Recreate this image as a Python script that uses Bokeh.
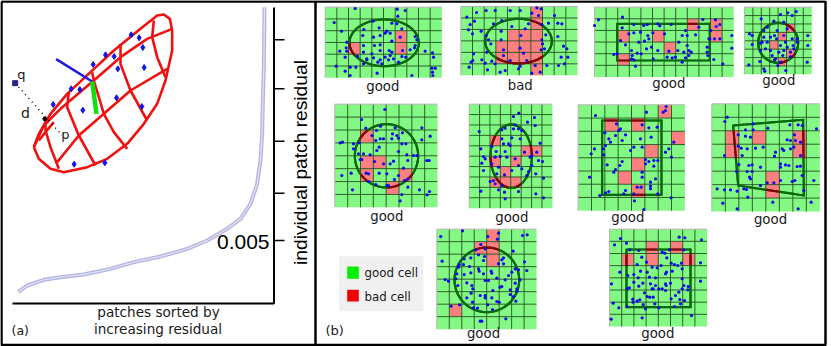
import numpy as np
from bokeh.plotting import figure
from bokeh.embed import file_html
from bokeh.resources import INLINE
from bokeh.core.properties import value

# ---- left chart (values read in 3x crop pixels of the picture) ----
curve_x = [53,80,130,180,250,330,400,480,560,620,680,720,750,770,780,785,787,790,792]
curve_y = [875,855,838,830,822,805,785,768,745,720,685,655,610,550,480,400,300,200,20]
tick_y = [118,265,422,578,720]
mesh_lines = [
 [(100,440),(115,400),(150,340),(200,280),(270,215),(340,150),(420,85),(470,45),(490,42),(508,55),(515,90),(515,150),(495,240),(470,310),(430,370),(380,430),(320,475),(260,500),(190,515),(150,505),(115,475),(100,440)],
 [(100,440),(130,375),(180,325),(280,240),(360,170),(440,115),(515,85)],
 [(170,485),(235,405),(390,270),(500,205)],
 [(460,60),(455,110),(470,170),(495,230)],
 [(360,130),(360,190),(390,270),(440,360)],
 [(275,215),(280,240),(310,340),(340,395),(380,445)],
 [(205,275),(200,320),(235,405),(285,495)],
 [(135,355),(135,390),(150,440),(175,505)],
 [(115,420),(135,395),(160,365)],
]
mesh_pts = [(392,103),(416,112),(427,141),(315,163),(341,168),(278,192),(352,205),(431,201),(212,265),(238,267),(348,292),(424,318),(158,312),(247,329),(221,491),(313,487)]

# ---- patches ----
dots1 = [(110,24),(236,26),(260,30),(47,66),(238,47),(69,92),(163,62),(136,87),(182,82),(220,68),(235,70),(250,85),(133,105),(205,92),(215,98),(200,98),(165,110),(185,105),(245,110),(85,125),(83,142),(135,135),(168,135),(185,133),(220,122),(290,108),(295,118),(290,135),(288,142),(64,152),(85,152),(135,155),(160,160),(185,150),(212,150),(220,155),(252,150),(275,148),(320,152),(342,157),(345,170),(117,167),(80,170),(145,175),(165,172),(185,178),(200,170),(215,165),(250,168),(262,170),(135,190),(145,178),(178,185),(190,190),(240,185),(53,197),(95,200),(112,200),(80,212),(95,225),(176,218),(210,178),(280,225),(340,203),(350,203),(343,225),(342,215),(225,175)]
dots2 = [(474,36),(503,30),(530,30),(575,30),(605,30),(655,22),(668,25),(640,38),(660,45),(708,45),(445,50),(468,62),(455,72),(525,70),(550,60),(580,78),(630,70),(670,72),(718,68),(730,70),(690,68),(450,88),(462,100),(488,92),(503,105),(548,92),(620,85),(607,105),(682,103),(718,108),(510,118),(517,130),(548,118),(670,118),(672,130),(678,145),(735,137),(465,160),(505,155),(555,148),(605,143),(615,158),(668,148),(745,145),(728,170),(748,170),(463,180),(490,178),(555,165),(625,180),(575,180),(500,188),(530,190),(458,185),(452,200),(507,208),(545,215),(560,210),(600,205),(605,197),(650,195),(640,218),(720,195),(738,190),(685,195),(665,215),(520,182)]
dots3 = [(72,75),(84,58),(156,50),(397,57),(435,58),(448,72),(437,78),(421,90),(448,115),(432,115),(418,115),(484,105),(484,143),(155,82),(190,72),(220,75),(230,72),(262,70),(268,76),(302,72),(385,80),(190,97),(175,100),(210,95),(247,97),(282,100),(345,90),(335,105),(350,105),(375,103),(150,120),(165,133),(205,125),(222,122),(232,105),(235,115),(325,125),(350,135),(415,115),(228,145),(243,140),(262,150),(295,152),(183,150),(322,150),(340,155),(355,150),(362,155),(410,140),(410,155),(130,162),(140,160),(185,165),(200,158),(212,160),(248,175),(183,175),(190,178),(290,170),(305,172),(315,170),(335,185),(345,172),(355,165),(412,165),(430,177),(457,190),(195,197)]
dots4 = [(572,55),(630,42),(652,37),(677,33),(665,45),(610,62),(640,65),(590,80),(580,90),(620,90),(650,85),(537,100),(545,105),(580,110),(600,110),(612,105),(640,105),(665,115),(680,115),(712,105),(570,128),(575,125),(590,125),(618,115),(645,125),(680,125),(545,132),(630,135),(650,140),(668,135),(712,135),(570,150),(600,150),(625,155),(640,150),(660,155),(670,145),(605,165),(585,145),(615,175),(637,165),(660,168),(568,183),(612,178),(710,185),(535,193),(630,185),(622,195),(580,205),(583,212),(646,210)]
dots5 = [(199,42),(129,72),(186,92),(142,98),(174,105),(230,97),(252,112),(310,97),(222,115),(235,120),(160,120),(172,135),(185,130),(195,130),(220,130),(240,128),(335,122),(310,133),(65,142),(72,140),(105,145),(122,142),(182,155),(262,145),(250,145),(105,160),(175,165),(240,168),(120,175),(135,175),(155,178),(265,178),(285,180),(295,180),(125,192),(130,192),(168,198),(195,205),(225,197),(268,195),(325,195),(332,195),(215,205),(255,218),(182,233),(205,235),(143,233),(150,235),(70,240),(98,233),(240,240),(258,255),(268,250),(228,252),(150,258),(172,267),(205,270),(268,275),(102,283),(303,283),(333,288),(326,298),(250,297),(245,316),(210,270)]
dots6 = [(601,53),(585,63),(648,66),(627,80),(650,90),(590,88),(585,100),(600,100),(550,103),(560,98),(482,108),(610,105),(665,143),(580,127),(550,130),(605,130),(570,145),(575,150),(555,145),(520,152),(487,160),(533,168),(560,168),(618,170),(640,180),(655,170),(530,185),(495,183),(545,183),(565,185),(590,190),(635,185),(500,190),(490,203),(520,205),(495,225),(600,210),(610,220),(640,210),(660,195),(672,198),(540,215),(535,235),(558,238),(580,225),(630,228),(652,235),(625,240),(525,255),(515,258),(530,265),(550,270),(675,248),(487,287),(540,283),(558,290),(600,288),(560,310),(652,295),(675,307)]
dots7 = [(287,33),(285,45),(228,50),(75,60),(278,50),(138,85),(215,88),(235,97),(260,95),(150,100),(145,105),(103,112),(165,118),(135,120),(242,125),(115,130),(120,140),(210,130),(155,135),(310,140),(105,150),(190,155),(215,155),(180,165),(72,160),(98,160),(295,160),(62,175),(100,178),(285,170),(303,185),(155,198),(225,192),(235,198),(250,195),(262,195),(148,210),(110,208),(225,205),(250,212),(135,222),(130,230),(215,230),(215,245),(255,250),(57,245),(240,260),(240,272),(200,275),(212,275),(240,280),(115,288),(105,292),(88,300),(165,285),(160,295),(190,295),(262,295),(192,316),(302,307),(220,342)]
dots8 = [(470,65),(463,78),(548,85),(525,103),(738,100),(592,98),(658,88),(683,88),(695,90),(548,103),(503,118),(525,122),(540,125),(672,118),(650,133),(660,135),(675,135),(690,140),(670,155),(503,152),(512,158),(530,160),(555,158),(578,155),(635,160),(660,160),(615,170),(612,182),(640,165),(462,180),(515,180),(690,180),(505,207),(535,210),(545,208),(570,215),(630,205),(645,208),(655,210),(630,215),(680,213),(690,212),(498,228),(530,228),(545,228),(537,245),(695,240),(610,262),(590,262),(630,255),(665,258),(673,255),(730,255),(570,270),(520,280),(440,280),(462,283),(480,283),(500,287),(528,282),(532,305),(700,285),(457,323),(607,320),(722,320),(500,340),(683,340),(540,250)]
dots9 = [(367,48),(432,31),(508,48),(540,38),(537,56),(612,45),(626,43),(487,72),(472,88),(500,85),(584,92),(480,103),(498,108),(495,120),(437,115),(457,112),(555,112),(550,118),(371,122),(618,124),(435,132),(422,132),(420,140),(453,138),(540,130),(555,130),(480,145),(482,152),(495,160),(518,152),(520,158),(590,145),(600,148),(580,155),(570,165),(625,150),(415,160),(437,162),(457,157),(412,175),(380,177),(605,178),(500,180),(510,180),(535,173),(560,178),(390,182),(418,195),(445,187),(460,195),(463,205),(550,198),(590,188),(575,208),(595,205),(595,212),(545,200),(523,210),(458,218),(445,232),(485,225),(500,225),(500,232),(520,232),(575,222),(585,228),(462,245),(535,243),(542,245),(592,242),(508,253),(398,257),(423,253),(465,262),(477,263),(522,267),(562,295),(485,302),(490,302)]
dots10 = [(150,54),(132,73),(168,68),(326,50),(343,52),(393,58),(178,88),(205,90),(275,95),(283,98),(340,88),(297,88),(214,110),(289,112),(200,132),(228,125),(302,128),(312,132),(322,135),(333,128),(245,140),(260,142),(272,135),(335,145),(390,127),(148,155),(210,152),(230,155),(285,160),(305,152),(172,165),(190,162),(203,172),(237,170),(255,172),(288,155),(335,175),(390,182),(123,190),(190,185),(217,188),(240,190),(205,197),(255,195),(285,190),(300,188),(177,202),(170,205),(245,205),(265,205),(275,205),(287,195),(340,195),(353,198),(335,205),(352,208),(325,215),(222,217),(230,228),(238,230),(248,230),(315,225),(302,235),(187,236),(208,238),(200,242),(188,245),(328,237),(342,240),(128,248),(218,252),(253,250),(330,250),(145,262),(170,258),(225,265),(265,262),(312,258),(122,296),(215,292),(363,285),(285,210),(248,205)]

labels = ["good","bad","good","good","good","good","good","good","good","good"]
label_pos = [(382.3,86),(519.7,85.3),(668.3,83.3),(778.3,80),(386.3,215.7),(511.3,217.3),(627.3,217.3),(770,219.3),(483,333.3),(657.3,333.3)]

# origin: crop corner, grid: x0, cell w, columns, y0, cell h, rows
panels = [
 dict(org=(318,0),  grid=(20,35,10,20,35.3,6),  dots=dots1,  bad=[(2,3),(6,2),(6,3)], shape=("ell",197,127,104,70)),
 dict(org=(318,0),  grid=(427,35,10,18,34.4,6), dots=dots2,  bad=[(3,3),(3,4),(4,2),(4,3),(4,4),(5,2),(5,3),(5,4),(6,0),(6,1),(6,2),(6,3),(6,4),(6,5)], shape=("ell",600,122,100,67)),
 dict(org=(570,0),  grid=(72,34.8,12,20,34.9,6), dots=dots3, bad=[(2,2),(5,2),(6,3),(8,1),(10,1),(10,2),(2,4)], shape=("poly",[(140,70),(418,70),(418,180),(140,180)])),
 dict(org=(570,0),  grid=(522,25.2,8,20,25.2,8), dots=dots4, bad=[(3,4),(4,3),(5,2),(5,5),(4,6)], shape=("ell",623,127,60,60)),
 dict(org=(318,95), grid=(49,38.5,8,26,38.7,8), dots=dots5,  bad=[(2,2),(2,4),(3,4),(2,5),(5,5),(4,6)], shape=("ell",204,181,95,95)),
 dict(org=(318,95), grid=(452,31.2,8,26,31.2,10), dots=dots6, bad=[(2,3),(2,5),(4,5),(3,6),(2,7),(3,7),(4,7),(5,4),(6,4)], shape=("ell",578,182,62,95)),
 dict(org=(570,95), grid=(23,40,8,28,39.7,8),   dots=dots7,  bad=[(6,0),(2,1),(4,1),(7,2),(5,3),(4,4),(3,5),(4,6)], shape=("poly",[(95,75),(273,75),(273,298),(95,298)])),
 dict(org=(570,95), grid=(424,40.5,8,25,40.4,8), dots=dots8, bad=[(1,2),(1,3),(3,2),(6,2),(6,3),(4,5),(4,6)], shape=("poly",[(488,90),(698,73),(700,300),(503,270)])),
 dict(org=(318,220),grid=(355,37.4,8,26,37.5,8), dots=dots9, bad=[(3,1),(4,0),(4,1),(4,2),(1,6)], shape=("ell",505,178,97,97)),
 dict(org=(570,220),grid=(117,36.6,8,26,36.5,8), dots=dots10, bad=[(3,1),(3,2),(5,1),(1,2),(6,2)], shape=("poly",[(168,87),(360,87),(360,260),(168,260)])),
]

Z = 3.0
GREEN, RED = "#84f884", "#fd8080"
p = figure(width=831, height=346, x_range=(0,831), y_range=(346,0), toolbar_location=None,
           output_backend="svg", min_border=0, outline_line_color=None)
p.axis.visible = False
p.grid.visible = False

def zp(seq, org=(0,0)):
    return [org[0]+a/Z for a,_ in seq], [org[1]+b/Z for _,b in seq]

# frame
fx = [1,1,825,825,1]; fy = [1,344.5,344.5,1,1]
p.line(fx, fy, line_color="black", line_width=2.5)
p.line([315,315],[1,344.5], line_color="black", line_width=2.5)

# left chart
p.line([a/Z for a in curve_x],[b/Z for b in curve_y], line_color="#b4b4e0", line_width=4)
p.line([a/Z for a in curve_x],[b/Z for b in curve_y], line_color="#dedef4", line_width=1.4)
p.line([273.5,273.5,12],[7,303,303], line_color="black", line_width=2)
p.segment(273.5,[t/Z for t in tick_y],284,[t/Z for t in tick_y], line_color="black", line_width=1.5)
for ln in mesh_lines:
    x,y = zp(ln); p.line(x,y,line_color="#f01010",line_width=2.6, line_join="round")
x,y = zp(mesh_pts); p.scatter(x,y,marker="diamond",size=6,color="#1414e6")
p.line(*zp([(167,176),(275,243)]),line_color="#1a1ae0",line_width=2.5)
p.line(*zp([(275,243),(288,340)]),line_color="#10e010",line_width=4.5)
p.line(*zp([(44,248),(185,405)]),line_color="black",line_width=1.5,line_dash="1 4")
p.scatter([44/Z],[248/Z],marker="square",size=5,color="#22228a")
p.scatter([133/Z],[355/Z],size=4,color="black")

def txt(x,y,s,size,font="DejaVu Sans",angle=0,align="center",color="#1a1a1a"):
    p.text([x],[y],text=[s],text_font=value(font),text_font_size=f"{size}px",angle=angle,
           text_align=align,text_baseline="middle",text_color=color)
txt(21,74,"q",13); txt(25,112,"d",14); txt(65,134,"p",13)
txt(269,241,"0.005",21,"Liberation Sans",align="right",color="black")
txt(300,162,"individual patch residual",19.2,"Liberation Sans",angle=np.pi/2,color="black")
txt(158,311,"patches sorted by",13.6); txt(157.5,328,"increasing residual",13.6)
txt(11,330,"(a)",12.5,align="left"); txt(325,330,"(b)",13,align="left")

# patches
for pan,lab,lp in zip(panels,labels,label_pos):
    ox,oy = pan["org"]; x0,w,nc,y0,h,nr = pan["grid"]
    X = lambda a: ox+a/Z
    Y = lambda b: oy+b/Z
    p.quad(left=[X(x0)],right=[X(x0+w*nc)],top=[Y(y0)],bottom=[Y(y0+h*nr)],fill_color=GREEN,line_color=None)
    bad = pan["bad"]
    p.quad(left=[X(x0+c*w) for c,r in bad],right=[X(x0+(c+1)*w) for c,r in bad],
           top=[Y(y0+r*h) for c,r in bad],bottom=[Y(y0+(r+1)*h) for c,r in bad],fill_color=RED,line_color=None)
    vx = [X(x0+i*w) for i in range(1,nc)]
    hy = [Y(y0+j*h) for j in range(1,nr)]
    p.segment(vx,Y(y0),vx,Y(y0+h*nr),line_color="#1c4a1c",line_width=1,line_alpha=.85)
    p.segment(X(x0),hy,X(x0+w*nc),hy,line_color="#1c4a1c",line_width=1,line_alpha=.85)
    p.line([X(x0),X(x0),X(x0+w*nc)],[Y(y0+h*nr),Y(y0),Y(y0)],line_color="#b4b4b4",line_width=1)
    sh = pan["shape"]
    if sh[0]=="ell":
        _,cx,cy,rx,ry = sh
        t = np.linspace(0,2*np.pi,181)
        ox_pts = np.column_stack([cx+rx*np.cos(t),cy+ry*np.sin(t)])
    else:
        v = np.array(sh[1]+[sh[1][0]],float)
        ox_pts = np.vstack([np.linspace(v[i],v[i+1],40) for i in range(len(v)-1)])
    mid = (ox_pts[:-1]+ox_pts[1:])/2
    isbad = [(int((m[0]-x0)//w),int((m[1]-y0)//h)) in bad for m in mid]
    p.segment([X(a) for a in ox_pts[:-1,0]],[Y(a) for a in ox_pts[:-1,1]],
              [X(a) for a in ox_pts[1:,0]],[Y(a) for a in ox_pts[1:,1]],
              line_color=["#7a0808" if b else "#0b6a0b" for b in isbad],line_width=2.2,line_cap="round")
    x,y = zp(pan["dots"],(ox,oy))
    p.scatter(x,y,size=3.2,color="#0a0ae6",line_color=None)
    txt(lp[0],lp[1],lab,13.3)

# legend
p.quad(left=[338.7],right=[423],top=[255.7],bottom=[310.7],fill_color="#f0f0f0",line_color=None)
p.quad(left=[346.7],right=[358.3],top=[266],bottom=[278.3],fill_color="#00f000",line_color=None)
p.quad(left=[346.7],right=[358.3],top=[289.3],bottom=[301],fill_color="#f00000",line_color=None)
txt(364,272.3,"good cell",11.8,align="left"); txt(364,296.7,"bad cell",11.8,align="left")

open("out.html","w").write(file_html(p, INLINE))
